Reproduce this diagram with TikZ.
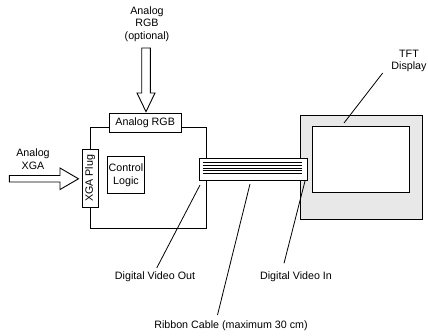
\documentclass[tikz,border=0pt]{standalone}
\usepackage{fontspec}
\setmainfont{Liberation Sans}
\begin{document}
\begin{tikzpicture}[x=1pt,y=-1pt,
  line width=0.9pt,
  lbl/.style={font=\fontsize{10.7}{12.6}\selectfont, align=center, inner sep=0pt},
  box/.style={draw, fill=white, inner sep=0pt, font=\fontsize{10.7}{12.6}\selectfont, align=center},
  leader/.style={line width=0.8pt},
  blockarrow/.style={draw, fill=white, line width=0.9pt, line join=miter}]
\useasboundingbox (0,0) rectangle (428,335);

% controller board
\node[box, minimum width=115.5pt, minimum height=101.5pt, anchor=north west] (board) at (90,126.5) {};
\node[box, minimum width=71.5pt, minimum height=19pt, anchor=north west] (rgbplug) at (109,113) {Analog RGB};
\node[box, minimum width=15.8pt, minimum height=57.7pt, anchor=north west] (xgaplug) at (81.7,149) {};
\node[lbl, rotate=90] at (xgaplug.center) {XGA Plug};
\node[box, minimum width=37.6pt, minimum height=37.3pt, anchor=north west] (logic) at (106.7,156) {Control\\Logic};

% TFT display
\node[draw, fill=black!9, minimum width=122pt, minimum height=104pt, inner sep=0pt, anchor=north west] (tft) at (300,115) {};
\node[draw, fill=white, minimum width=97pt, minimum height=65.7pt, inner sep=0pt, anchor=north west] (screen) at (312,126) {};

% ribbon cable
\node[box, minimum width=108.8pt, minimum height=21.7pt, anchor=north west] (ribbon) at (198.5,158.3) {};
\foreach \yy in {162.7,165.4,168.1,170.8,173.5}
  \draw[line width=0.7pt] (202.7,\yy) -- (302.3,\yy);

% input arrows
\draw[blockarrow] (141.7,48) -- (150.3,48) -- (150.3,93) -- (155,93) -- (146,111.7)
  -- (137,93) -- (141.7,93) -- cycle;
\draw[blockarrow] (9.3,175.5) -- (60,175.5) -- (60,168) -- (78.5,178.8) -- (60,189.5)
  -- (60,182) -- (9.3,182) -- cycle;

% labels
\node[lbl] (rgbin) at (147,24) {Analog\\RGB\\(optional)};
\node[lbl] (xgain) at (33,159) {Analog\\XGA};
\node[lbl, anchor=east] (tftlbl) at (427,61) {TFT\\Display};
\node[lbl] (dvo) at (155,276.5) {Digital Video Out};
\node[lbl] (dvi) at (296,276.5) {Digital Video In};
\node[lbl] (cable) at (231,326) {Ribbon Cable (maximum 30 cm)};

% leader lines
\coordinate (tftA) at (344,123);  \coordinate (tftB) at (382.7,73);
\coordinate (dvoA) at (200,185);  \coordinate (dvoB) at (156.7,268);
\coordinate (cabA) at (250,184);  \coordinate (cabB) at (217.5,315);
\coordinate (dviA) at (305,181);  \coordinate (dviB) at (284,263.3);
\draw[leader] (tftA) -- (tftB);
\draw[leader] (dvoA) -- (dvoB);
\draw[leader] (cabA) -- (cabB);
\draw[leader] (dviA) -- (dviB);
\end{tikzpicture}
\end{document}
